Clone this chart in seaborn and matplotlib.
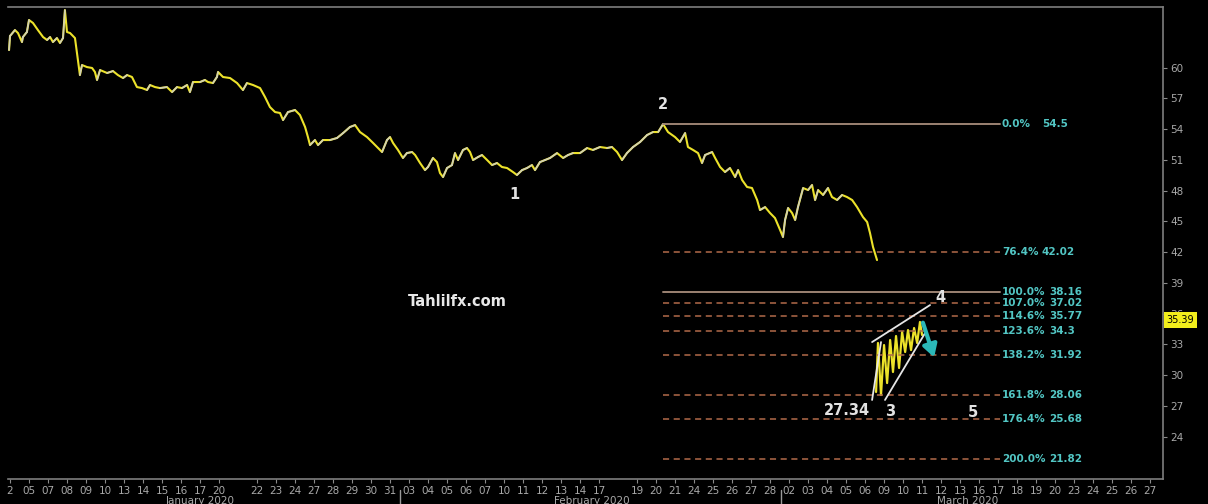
import matplotlib
matplotlib.use("Agg")
import matplotlib.pyplot as plt
import matplotlib.transforms as mtransforms
import numpy as np
import pandas as pd
import seaborn as sns

# ---------------- data ----------------
# x = trading-slot index on the axis, price = WTI-like price
price_x = [-0.05, 0.0, 0.26, 0.42, 0.63, 0.68, 0.89, 1.0, 1.21, 1.47, 1.74, 1.95, 2.11, 2.26, 2.47,
           2.63, 2.79, 2.89, 3.0, 3.16, 3.42, 3.68, 3.79, 4.05, 4.32, 4.47, 4.58, 4.74, 5.11, 5.42,
           5.68, 5.95, 6.16, 6.42, 6.68, 6.95, 7.21, 7.37, 7.63, 7.89, 8.26, 8.53, 8.79, 9.05, 9.32,
           9.47, 9.63, 10.0, 10.26, 10.42, 10.68, 10.89, 10.95, 11.21, 11.58, 11.95, 12.26, 12.47,
           12.79, 13.16, 13.42, 13.68, 13.95, 14.21, 14.37, 14.63, 15.0, 15.26, 15.53, 15.68, 15.79,
           16.05, 16.21, 16.47, 16.84, 17.21, 17.53, 17.89, 18.16, 18.42, 18.79, 19.11, 19.37, 19.58,
           19.84, 20.0, 20.16, 20.42, 20.68, 20.89, 21.16, 21.32, 21.58, 21.84, 22.0, 22.26, 22.47,
           22.63, 22.79, 23.0, 23.26, 23.42, 23.58, 23.84, 24.05, 24.21, 24.37, 24.63, 24.84, 25.11,
           25.37, 25.63, 25.89, 26.16, 26.47, 26.68, 26.95, 27.21, 27.47, 27.63, 27.89, 28.16, 28.42,
           28.79, 29.11, 29.37, 29.63, 30.0, 30.37, 30.68, 31.05, 31.42, 31.68, 31.95, 32.21, 32.47,
           32.79, 33.16, 33.53, 33.84, 34.11, 34.37, 34.63, 35.0, 35.26, 35.53, 35.68, 35.95, 36.21,
           36.42, 36.58, 36.95, 37.11, 37.37, 37.63, 37.89, 38.16, 38.32, 38.53, 38.79, 39.05, 39.32,
           39.47, 39.74, 40.0, 40.26, 40.53, 40.68, 40.79, 40.95, 41.16, 41.32, 41.47, 41.74, 42.0,
           42.21, 42.37, 42.53, 42.79, 43.05, 43.26, 43.53, 43.79, 44.05, 44.32, 44.58, 44.89, 45.11,
           45.26, 45.42, 45.63]
price_v = [61.72, 63.09, 63.67, 63.38, 62.50, 62.99, 63.48, 64.65, 64.36, 63.67, 62.99, 62.70, 62.99, 62.50, 62.89,
           62.41, 62.89, 65.62, 63.48, 63.38, 62.89, 59.28, 60.26, 60.06, 59.97, 59.58, 58.80, 59.77, 59.48, 59.67,
           59.28, 58.99, 59.28, 59.09, 58.11, 58.01, 57.82, 58.31, 58.11, 58.01, 58.11, 57.62, 58.11, 58.01, 58.31,
           57.62, 58.60, 58.60, 58.80, 58.60, 58.50, 59.09, 59.58, 59.09, 58.99, 58.50, 57.82, 58.50,
           58.31, 58.01, 57.14, 56.16, 55.67, 55.58, 54.89, 55.67, 55.87, 55.38, 54.21, 53.23, 52.45,
           52.94, 52.45, 52.94, 52.94, 53.14, 53.62, 54.21, 54.40, 53.72, 53.23, 52.65, 52.16, 51.77,
           52.94, 53.23, 52.65, 51.97, 51.19, 51.67, 51.77, 51.48, 50.70, 50.01, 50.31, 51.19, 50.79,
           49.72, 49.33, 50.21, 50.50, 51.67, 50.99, 51.97, 52.16, 51.77, 50.99, 51.28, 51.48, 50.99,
           50.50, 50.70, 50.31, 50.21, 49.82, 49.53, 50.01, 50.21, 50.50, 50.01, 50.79, 50.99, 51.19,
           51.67, 51.19, 51.48, 51.67, 51.67, 52.16, 51.97, 52.26, 52.16, 52.26, 51.77, 50.99, 51.67,
           52.26, 52.75, 53.43, 53.72, 53.72, 54.50, 53.72, 53.23, 52.75, 53.62, 52.26, 51.97, 51.67,
           50.70, 51.48, 51.77, 51.19, 50.31, 49.82, 50.21, 49.33, 50.01, 49.04, 48.36, 48.26, 47.09,
           46.11, 46.40, 45.82, 45.33, 44.16, 43.48, 45.14, 46.31, 45.82, 45.14, 46.40, 48.26, 48.06,
           48.55, 47.09, 48.06, 47.58, 48.26, 47.38, 47.09, 47.58, 47.38, 47.09, 46.40, 45.43, 44.94,
           43.87, 42.50, 41.23]

# hand-drawn projection inside the wedge
proj_x = [45.58, 45.68, 45.84, 46.0, 46.16, 46.32, 46.47, 46.63, 46.79, 46.95, 47.11, 47.26, 47.42,
          47.58, 47.74, 47.89, 48.0]
proj_v = [28.36, 33.14, 28.06, 32.94, 29.23, 33.43, 30.31, 33.82, 30.70, 34.21, 32.26, 34.40, 32.45,
          34.60, 33.14, 35.19, 33.92]

# Fibonacci levels
fib_pct = ["0.0%", "76.4%", "100.0%", "107.0%", "114.6%", "123.6%", "138.2%", "161.8%", "176.4%", "200.0%"]
fib_val = [54.5, 42.02, 38.16, 37.02, 35.77, 34.3, 31.92, 28.06, 25.68, 21.82]
fib_solid = [True, False, True, False, False, False, False, False, False, False]
fib_start, fib_end = 34.37, 52.1

# wedge lines (x0, v0, x1, v1)
wedge_left = [45.37, 27.58, 45.84, 33.23]
wedge_upper = [45.37, 33.23, 48.42, 36.84]
wedge_lower = [46.05, 27.58, 48.16, 34.11]
arrow_seg = [48.0, 35.38, 48.68, 31.48]

last_price = 35.39

# axis ticks
tick_slots = list(range(0, 12)) + list(range(13, 32)) + list(range(33, 61))
tick_labels = ["2", "05", "07", "08", "09", "10", "13", "14", "15", "16", "17", "20", "22", "23", "24", "27",
               "28", "29", "30", "31",
               "03", "04", "05", "06", "07", "10", "11", "12", "13", "14", "17", "19", "20", "21", "24",
               "25", "26", "27", "28",
               "02", "03", "04", "05", "06", "09", "10", "11", "12", "13", "16", "17", "18", "19", "20",
               "23", "24", "25", "26", "27"]
month_names = ["January 2020", "February 2020", "March 2020"]
month_centers = [10.0, 30.6, 50.4]
month_breaks = [20.5, 40.6]
y_ticks = [24, 27, 30, 33, 36, 39, 42, 45, 48, 51, 54, 57, 60]

# ---------------- style ----------------
sns.set_theme(style="dark")
plt.rcParams['font.family'] = ['DejaVu Sans']

BG = "#000000"
YEL = "#ece22a"
GRAY_LINE = "#cfcfc4"
TXT = "#a9a9a9"
FIB_TXT = "#52c6c4"
SOLID_C = "#9c8373"
DASH_C = "#b26a4a"

fig = plt.figure(figsize=(12.08, 5.04), dpi=100, facecolor=BG)
ax = fig.add_axes([8 / 1208, 25 / 504, 1155 / 1208, 472 / 504])
ax.set_facecolor(BG)

df = pd.DataFrame({"x": price_x, "price": price_v})
sns.lineplot(data=df, x="x", y="price", ax=ax, color=YEL, linewidth=1.5,
             estimator=None, sort=False, legend=False)
# up-ticks drawn in pale grey (Bloomberg-like two-colour bars)
for i in range(len(price_x) - 1):
    if price_v[i + 1] > price_v[i]:
        ax.plot(price_x[i:i + 2], price_v[i:i + 2], color=GRAY_LINE, lw=1.2, alpha=0.9,
                solid_capstyle="round")

# projection zigzag
sns.lineplot(x=proj_x, y=proj_v, ax=ax, color=YEL, linewidth=1.6, estimator=None, sort=False)

# Fibonacci lines & labels
for pct, val, solid in zip(fib_pct, fib_val, fib_solid):
    if solid:
        ax.plot([fib_start, fib_end], [val, val], color=SOLID_C, lw=1.4)
    else:
        ax.plot([fib_start, fib_end], [val, val], color=DASH_C, lw=1.1, dashes=(4, 3))
    ax.text(fib_end + 0.1, val, pct, color=FIB_TXT, fontsize=7.5, fontweight="bold",
            va="center", ha="left")
    ax.text(54.3 if len(pct) <= 5 else 54.7, val, f"{val:g}", color=FIB_TXT,
            fontsize=7.5, fontweight="bold", va="center", ha="left")

# wedge
for seg in (wedge_left, wedge_upper, wedge_lower):
    ax.plot([seg[0], seg[2]], [seg[1], seg[3]], color="#e6e6e6", lw=1.3)
ax.annotate("", xy=(arrow_seg[2], arrow_seg[3]), xytext=(arrow_seg[0], arrow_seg[1]),
            arrowprops=dict(arrowstyle="-|>,head_width=0.35,head_length=0.6", color="#2bb8b8", lw=3))

# wave labels
lab_kw = dict(color="#e2e2e2", fontsize=10.5, fontweight="bold", ha="center", va="center")
ax.text(26.53, 47.58, "1", **lab_kw)
ax.text(34.37, 56.45, "2", **lab_kw)
ax.text(46.32, 26.5, "3", **lab_kw)
ax.text(48.95, 37.53, "4", **lab_kw)
ax.text(50.68, 26.4, "5", **lab_kw)
ax.text(44.05, 26.6, "27.34", **lab_kw)
ax.text(23.53, 37.23, "Tahlilfx.com", color="#e8e8e8", fontsize=10.5, fontweight="bold",
        ha="center", va="center")

# axes
ax.set_xlim(-0.105, 60.68)
ax.set_ylim(19.87, 65.92)
ax.set_xlabel("")
ax.set_ylabel("")
ax.set_xticks(tick_slots)
ax.set_xticklabels(tick_labels)
ax.yaxis.tick_right()
ax.set_yticks(y_ticks)
ax.set_yticklabels([str(t) for t in y_ticks])
ax.tick_params(axis="x", colors="#8a8a8a", labelcolor=TXT, labelsize=7.5, length=3, width=0.8,
               direction="out", pad=2, bottom=True)
ax.tick_params(axis="y", colors="#8a8a8a", labelcolor=TXT, labelsize=7.5, length=3, width=0.8,
               direction="out", pad=2, right=True, left=False)
ax.grid(False)
ax.spines["left"].set_visible(False)
for side in ("top", "right", "bottom"):
    ax.spines[side].set_visible(True)
    ax.spines[side].set_color("#7d7d7d")
    ax.spines[side].set_linewidth(1.2)

# last price tag (covers the 36 tick label as in the original terminal chart)
ax.text(1.003, last_price, f"{last_price:.2f}",
        transform=mtransforms.blended_transform_factory(ax.transAxes, ax.transData),
        color="#000000", fontsize=7, va="center", ha="left",
        bbox=dict(boxstyle="square,pad=0.3", fc="#f2ee1c", ec="none"), zorder=10, clip_on=False)

# month labels & separators
trans = mtransforms.blended_transform_factory(ax.transData, ax.transAxes)
for name, c in zip(month_names, month_centers):
    ax.text(c, -0.047, name, transform=trans, color=TXT, fontsize=7.5, ha="center", va="center",
            clip_on=False)
for b in month_breaks:
    ax.plot([b, b], [-0.024, -0.06], transform=trans, color="#9a9a9a", lw=1, clip_on=False)

fig.savefig("out.png", dpi=100, facecolor=BG)
